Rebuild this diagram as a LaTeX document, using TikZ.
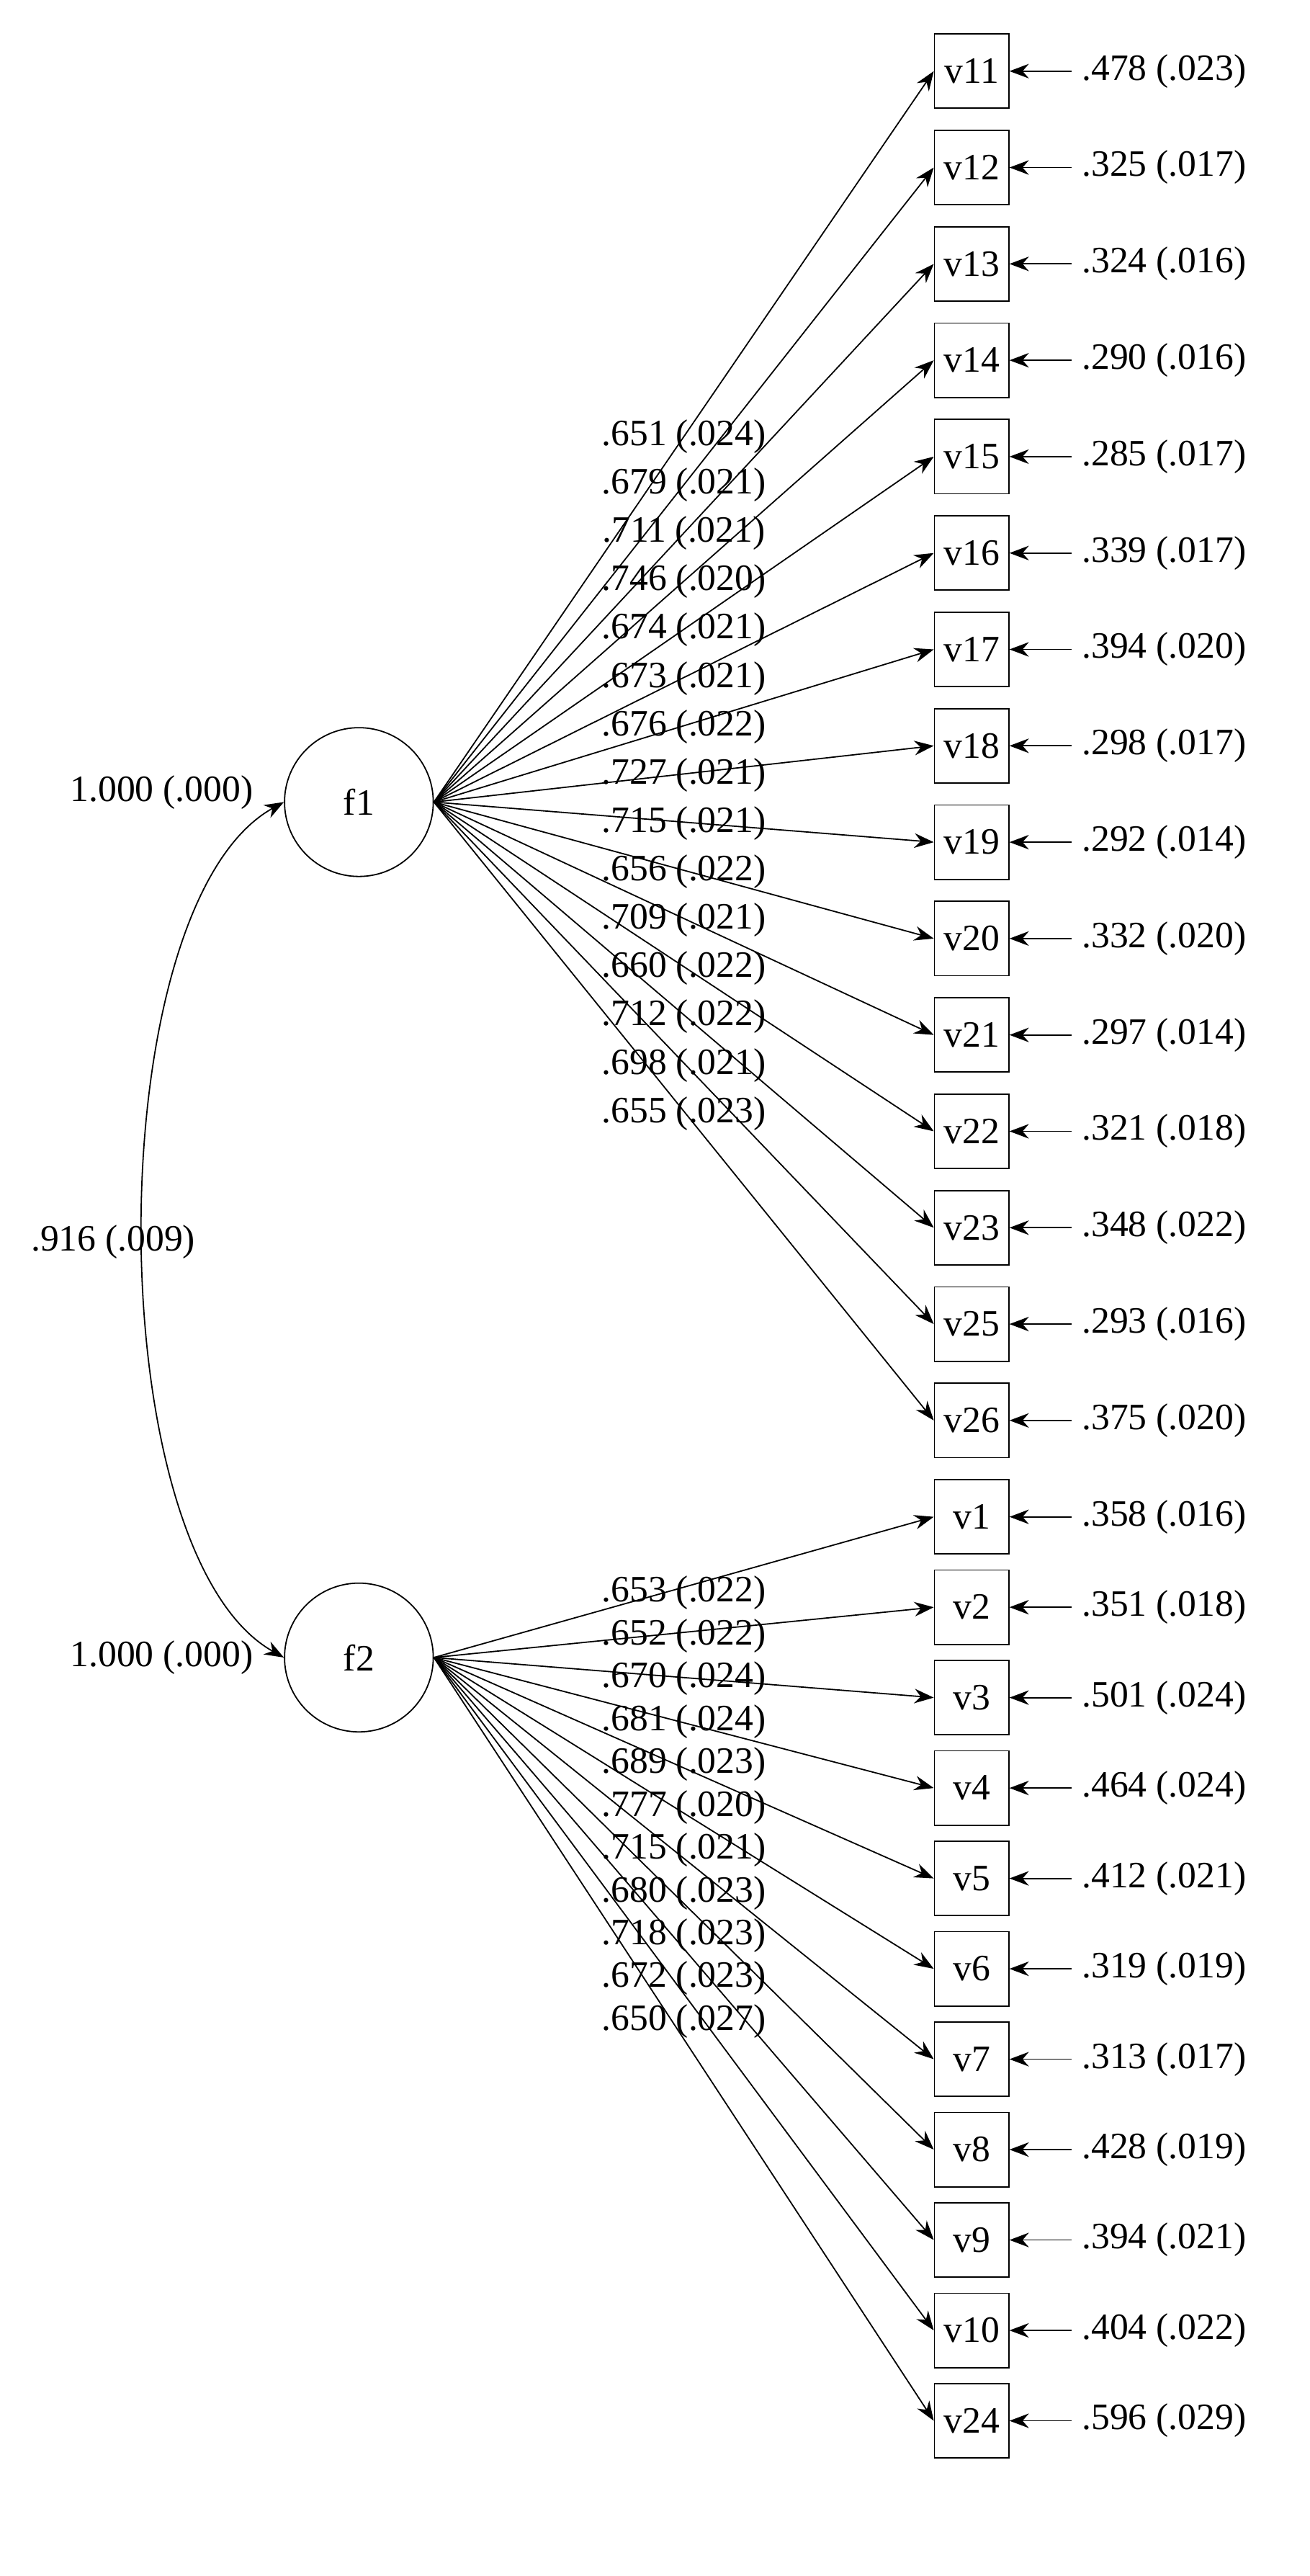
\documentclass[tikz,border=0pt]{standalone}
\usepackage{fontspec}
\setmainfont{Liberation Serif}
\usetikzlibrary{arrows.meta,positioning}
\begin{document}
\begin{tikzpicture}[x=0.5pt,y=-0.5pt,font=\fontsize{11.5}{13}\selectfont,
  obs/.style={draw,minimum width=23pt,minimum height=23pt,inner sep=1pt},
  lat/.style={draw,circle,minimum size=46pt,inner sep=0pt},
  lbl/.style={inner sep=1pt},
  res/.style={inner sep=3pt},
  arr/.style={-{Stealth[length=6pt,width=4.5pt]}}]
\useasboundingbox (0,0) rectangle (810,1593);
% latent factors
\node[lat] (f1) at (222,496) {f1};
\node[lat] (f2) at (222,1025) {f2};
\node (vf1) at (100,490) {1.000 (.000)};
\node (vf2) at (100,1025) {1.000 (.000)};
\draw[{Stealth[length=6pt,width=4.5pt]}-{Stealth[length=6pt,width=4.5pt]}]
  (f1.west) .. controls (60,560) and (60,960) .. (f2.west);
\node (cor) at (70,768) {.916 (.009)};
% indicators of f1
\foreach \v/\res/\load [count=\i from 0] in {
  11/.478 (.023)/.651 (.024), 12/.325 (.017)/.679 (.021),
  13/.324 (.016)/.711 (.021), 14/.290 (.016)/.746 (.020),
  15/.285 (.017)/.674 (.021), 16/.339 (.017)/.673 (.021),
  17/.394 (.020)/.676 (.022), 18/.298 (.017)/.727 (.021),
  19/.292 (.014)/.715 (.021), 20/.332 (.020)/.656 (.022),
  21/.297 (.014)/.709 (.021), 22/.321 (.018)/.660 (.022),
  23/.348 (.022)/.712 (.022), 25/.293 (.016)/.698 (.021),
  26/.375 (.020)/.655 (.023)}{
  \node[obs] (v\v) at (601,44+59.6*\i) {v\v};
  \node[res] (e\v) at (720,44+59.6*\i) {\res};
  \draw[arr] (e\v.west) -- (v\v.east);
  \draw[arr] (f1.east) -- (v\v.west);
  \node[lbl] (l\v) at (423,270+29.9*\i) {\load};
}
% indicators of f2
\foreach \v/\res/\load [count=\i from 0] in {
  1/.358 (.016)/.653 (.022), 2/.351 (.018)/.652 (.022),
  3/.501 (.024)/.670 (.024), 4/.464 (.024)/.681 (.024),
  5/.412 (.021)/.689 (.023), 6/.319 (.019)/.777 (.020),
  7/.313 (.017)/.715 (.021), 8/.428 (.019)/.680 (.023),
  9/.394 (.021)/.718 (.023), 10/.404 (.022)/.672 (.023),
  24/.596 (.029)/.650 (.027)}{
  \node[obs] (v\v) at (601,938+55.9*\i) {v\v};
  \node[res] (e\v) at (720,938+55.9*\i) {\res};
  \draw[arr] (e\v.west) -- (v\v.east);
  \draw[arr] (f2.east) -- (v\v.west);
  \node[lbl] (l\v) at (423,985+26.5*\i) {\load};
}
\end{tikzpicture}
\end{document}
